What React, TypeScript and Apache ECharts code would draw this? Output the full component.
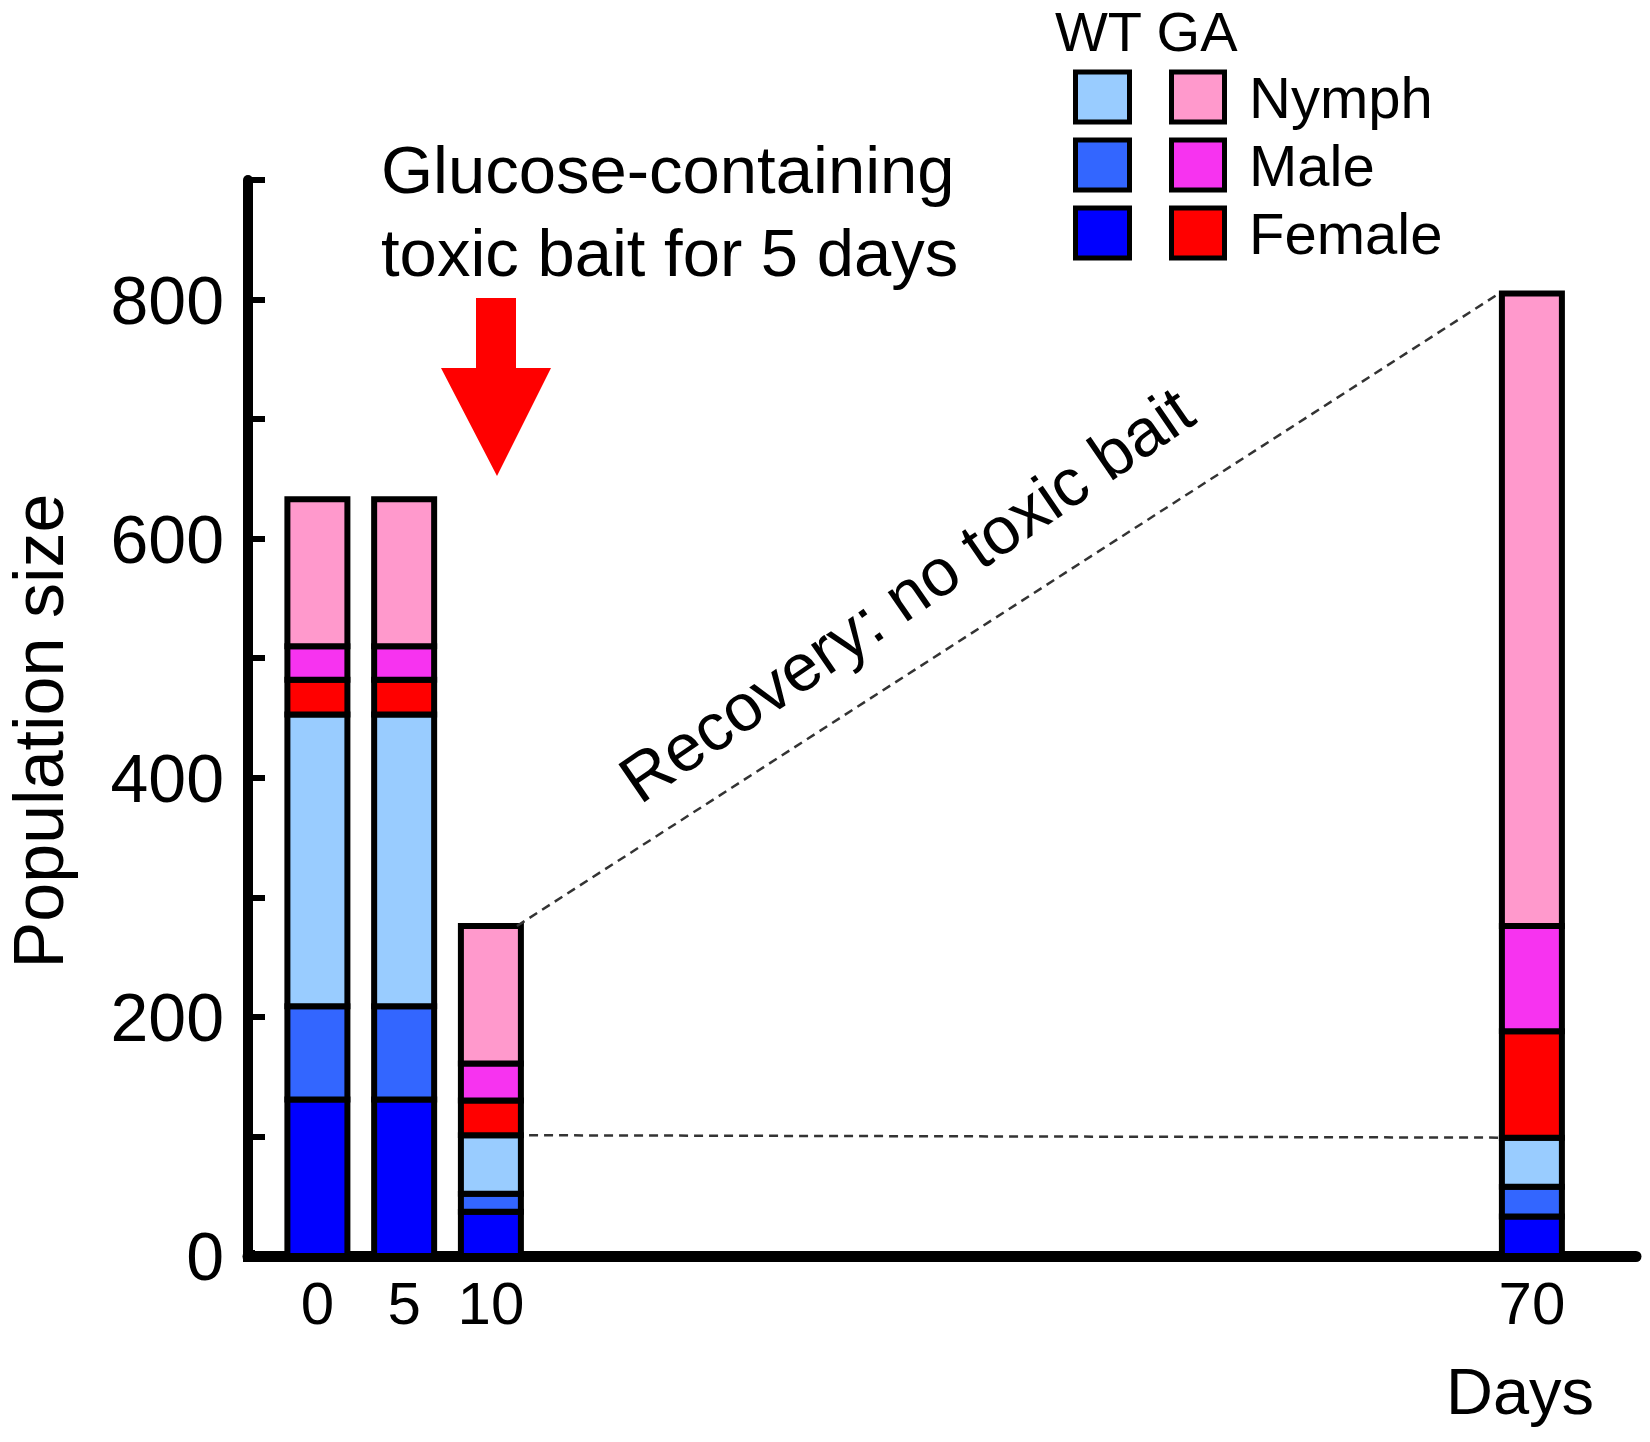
import React, { useEffect, useRef } from "react";
import * as echarts from "echarts";

// ---- data ----
const days = [0, 5, 10, 70];
const wtFemale = [131, 131, 37, 33];
const wtMale = [78, 78, 15, 25];
const wtNymph = [244, 244, 49, 41];
const gaFemale = [29, 29, 29, 89];
const gaMale = [28, 28, 31, 88];
const gaNymph = [123, 123, 115, 529];
const yTicks = [0, 200, 400, 600, 800];
const recoveryFrom = 11.5; // day where the upper connector starts (edge of day-10 bar)
const recoveryTo = 68.1; // day where the connectors end (edge of day-70 bar)
const wtFrom = 12.2; // day where the lower connector starts

const FONT = "'Liberation Sans', Arial, Helvetica, sans-serif";
const BAR_PX = 60;
const BORDER = 6;

const colors = {
  wtNymph: "#99CCFF",
  wtMale: "#3366FF",
  wtFemale: "#0000FF",
  gaNymph: "#FF99CC",
  gaMale: "#F733F0",
  gaFemale: "#FF0000",
};

export default function App() {
  const ref = useRef<HTMLDivElement>(null);
  useEffect(() => {
    if (!ref.current) return;
    const chart = echarts.init(ref.current, null, { renderer: "svg" });

    // layers from bottom to top
    const layers = [
      { name: "WT Female", data: wtFemale, color: colors.wtFemale },
      { name: "WT Male", data: wtMale, color: colors.wtMale },
      { name: "WT Nymph", data: wtNymph, color: colors.wtNymph },
      { name: "GA Female", data: gaFemale, color: colors.gaFemale },
      { name: "GA Male", data: gaMale, color: colors.gaMale },
      { name: "GA Nymph", data: gaNymph, color: colors.gaNymph },
    ];
    const running = days.map(() => 0);
    const stacked = layers.map((l) => {
      const items = l.data.map((v, i) => {
        const base = running[i];
        running[i] += v;
        return [days[i], base, running[i]];
      });
      return { ...l, items };
    });

    const barSeries = stacked.map((s) => ({
      name: s.name,
      type: "custom",
      encode: { x: 0, y: [1, 2] },
      data: s.items,
      renderItem: (_params: any, api: any) => {
        const d = api.value(0);
        const top = api.coord([d, api.value(2)]);
        const bottom = api.coord([d, api.value(1)]);
        return {
          type: "rect",
          shape: {
            x: top[0] - BAR_PX / 2,
            y: top[1],
            width: BAR_PX,
            height: bottom[1] - top[1],
          },
          style: { fill: s.color, stroke: "#000", lineWidth: BORDER },
        };
      },
    }));

    const totals = running;
    const wtTotals = days.map((_, i) => wtFemale[i] + wtMale[i] + wtNymph[i]);
    const i10 = days.indexOf(10);
    const i70 = days.indexOf(70);

    const dashed = { color: "#333", width: 2.5, type: [9, 6] };

    const legendRows = [
      { label: "Nymph", wt: colors.wtNymph, ga: colors.gaNymph, y: 97 },
      { label: "Male", wt: colors.wtMale, ga: colors.gaMale, y: 165 },
      { label: "Female", wt: colors.wtFemale, ga: colors.gaFemale, y: 233 },
    ];
    const legendGraphics: any[] = [];
    legendRows.forEach((r) => {
      legendGraphics.push({
        type: "rect",
        shape: { x: 1075.5, y: r.y - 25, width: 54, height: 50 },
        style: { fill: r.wt, stroke: "#000", lineWidth: 5 },
      });
      legendGraphics.push({
        type: "rect",
        shape: { x: 1171.5, y: r.y - 25, width: 53, height: 50 },
        style: { fill: r.ga, stroke: "#000", lineWidth: 5 },
      });
      legendGraphics.push({
        type: "text",
        x: 1249,
        y: r.y,
        style: {
          text: r.label,
          fontSize: 58,
          fontFamily: FONT,
          fill: "#000",
          align: "left",
          verticalAlign: "middle",
        },
      });
    });

    chart.setOption({
      animation: false,
      backgroundColor: "#ffffff",
      textStyle: { fontFamily: FONT },
      grid: {
        left: 248,
        right: 14,
        top: 180,
        bottom: 186,
        containLabel: false,
        outerBoundsMode: "none",
      },
      xAxis: {
        type: "value",
        min: -4,
        max: 76,
        axisLine: { show: true, onZero: false, lineStyle: { color: "#000", width: 11 } },
        axisTick: { show: false },
        splitLine: { show: false },
        axisLabel: {
          customValues: days,
          fontSize: 60,
          color: "#000",
          margin: 17,
          fontFamily: FONT,
        },
      },
      yAxis: {
        type: "value",
        min: 0,
        max: 900,
        interval: 100,
        name: "Population size",
        nameLocation: "middle",
        nameGap: 174,
        nameTextStyle: {
          fontSize: 70,
          color: "#000",
          fontFamily: FONT,
          padding: [0, 26, 0, 0],
        },
        axisLine: { show: true, onZero: false, lineStyle: { color: "#000", width: 10 } },
        axisTick: { show: true, inside: true, length: 17, lineStyle: { color: "#000", width: 6 } },
        splitLine: { show: false },
        axisLabel: {
          fontSize: 68,
          color: "#000",
          margin: 24,
          fontFamily: FONT,
          formatter: (v: number) => (yTicks.includes(v) ? String(v) : ""),
        },
      },
      series: [
        ...barSeries,
        {
          name: "recovery-total",
          type: "line",
          symbol: "none",
          data: [
            [recoveryFrom, totals[i10]],
            [recoveryTo, totals[i70]],
          ],
          lineStyle: dashed,
          z: 5,
        },
        {
          name: "recovery-wt",
          type: "line",
          symbol: "none",
          data: [
            [wtFrom, wtTotals[i10]],
            [recoveryTo, wtTotals[i70]],
          ],
          lineStyle: dashed,
          z: 5,
        },
      ],
      graphic: [
        {
          type: "rect",
          shape: { x: 243, y: 1250, width: 12, height: 12 },
          style: { fill: "#000" },
        },
        {
          type: "polygon",
          shape: {
            points: [
              [476, 298],
              [516, 298],
              [516, 368],
              [551, 368],
              [497, 476],
              [441, 368],
              [476, 368],
            ],
          },
          style: { fill: "#FF0000" },
        },
        {
          type: "text",
          x: 381,
          y: 169,
          style: {
            text: "Glucose-containing",
            fontSize: 67,
            fontFamily: FONT,
            fill: "#000",
            align: "left",
            verticalAlign: "middle",
          },
        },
        {
          type: "text",
          x: 381,
          y: 252,
          style: {
            text: "toxic bait for 5 days",
            fontSize: 67,
            fontFamily: FONT,
            fill: "#000",
            align: "left",
            verticalAlign: "middle",
          },
        },
        {
          type: "text",
          x: 906,
          y: 594,
          rotation: (34.5 * Math.PI) / 180,
          style: {
            text: "Recovery: no toxic bait",
            fontSize: 67,
            fontFamily: FONT,
            fill: "#000",
            align: "center",
            verticalAlign: "middle",
          },
        },
        {
          type: "text",
          x: 1055,
          y: 31,
          style: {
            text: "WT GA",
            fontSize: 56,
            fontFamily: FONT,
            fill: "#000",
            align: "left",
            verticalAlign: "middle",
          },
        },
        ...legendGraphics,
        {
          type: "text",
          x: 1520,
          y: 1391,
          style: {
            text: "Days",
            fontSize: 65,
            fontFamily: FONT,
            fill: "#000",
            align: "center",
            verticalAlign: "middle",
          },
        },
      ],
    });
    return () => chart.dispose();
  }, []);

  return (
    <div
      ref={ref}
      style={{ position: "absolute", left: 0, top: 0, width: 1650, height: 1442 }}
    />
  );
}
